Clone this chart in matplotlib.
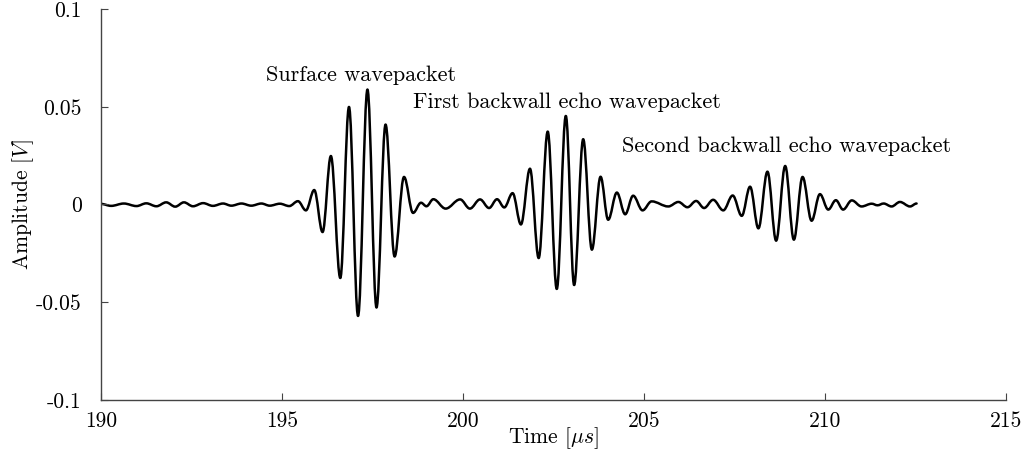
"""Ultrasonic A-scan: surface and backwall echo wavepackets."""
import matplotlib
matplotlib.use("Agg")
import matplotlib.pyplot as plt
from matplotlib.path import Path
from matplotlib.patches import PathPatch

plt.rcParams["font.family"] = "serif"
plt.rcParams["font.serif"] = ["cmr10"]
plt.rcParams["mathtext.fontset"] = "cm"
plt.rcParams["axes.unicode_minus"] = False
plt.rcParams["axes.formatter.use_mathtext"] = True

# turning points of the received signal (time in us, amplitude in V)
t_us = [
    190.00, 190.28, 190.63, 190.98, 191.25, 191.53, 191.80, 192.05, 192.29, 192.54,
    192.82, 193.09, 193.37, 193.60, 193.88, 194.15, 194.43, 194.66, 194.94, 195.20,
    195.44, 195.66, 195.89, 196.12, 196.35, 196.61, 196.85, 197.10, 197.36, 197.61,
    197.86, 198.11, 198.37, 198.62, 198.84, 198.99, 199.18, 199.52, 199.92, 200.19,
    200.47, 200.72, 200.94, 201.14, 201.37, 201.60, 201.85, 202.09, 202.34, 202.59,
    202.84, 203.07, 203.32, 203.56, 203.80, 204.01, 204.25, 204.48, 204.70, 204.96,
    205.21, 205.67, 205.95, 206.20, 206.44, 206.66, 206.91, 207.19, 207.45, 207.70,
    207.93, 208.16, 208.41, 208.65, 208.90, 209.14, 209.38, 209.63, 209.86, 210.09,
    210.30, 210.50, 210.74, 211.01, 211.29, 211.45, 211.62, 211.84, 212.07, 212.35,
    212.53,
]
amp_v = [
    0.0003, -0.0007, 0.0005, -0.0008, 0.0006, -0.0009, 0.0011, -0.0011, 0.0011, -0.0009,
    0.0007, -0.0007, 0.0005, -0.0006, 0.0005, -0.0006, 0.0005, -0.0006, 0.0004, -0.0008,
    0.0017, -0.0030, 0.0074, -0.0141, 0.0248, -0.0376, 0.0499, -0.0570, 0.0588, -0.0527,
    0.0409, -0.0266, 0.0141, -0.0043, 0.0009, -0.0009, 0.0027, -0.0021, 0.0026, -0.0021,
    0.0026, -0.0018, 0.0027, -0.0015, 0.0058, -0.0102, 0.0183, -0.0274, 0.0373, -0.0432,
    0.0453, -0.0412, 0.0334, -0.0231, 0.0142, -0.0078, 0.0061, -0.0050, 0.0045, -0.0030,
    0.0016, -0.0010, 0.0013, -0.0014, 0.0018, -0.0018, 0.0024, -0.0030, 0.0046, -0.0058,
    0.0091, -0.0122, 0.0168, -0.0185, 0.0197, -0.0180, 0.0141, -0.0083, 0.0053, -0.0026,
    0.0022, -0.0026, 0.0021, -0.0010, 0.0004, -0.0004, 0.0005, -0.0010, 0.0013, -0.0010,
    0.0005,
]

xticks = [190, 195, 200, 205, 210, 215]
yticks = [-0.1, -0.05, 0, 0.05, 0.1]
ytick_labels = ["-0.1", "-0.05", "0", "0.05", "0.1"]

labels = ["Surface wavepacket", "First backwall echo wavepacket",
          "Second backwall echo wavepacket"]
label_t = [194.56, 198.62, 204.39]
label_a = [0.0632, 0.0494, 0.0269]

fig = plt.figure(figsize=(10.32, 4.55), dpi=100)
ax = fig.add_axes([0.0979, 0.1209, 0.8769, 0.8593])

# smooth trace: cubic segments with flat tangents at each turning point
verts = [(t_us[0], amp_v[0])]
codes = [Path.MOVETO]
c = 0.364
for i in range(1, len(t_us)):
    t0, a0 = t_us[i - 1], amp_v[i - 1]
    t1, a1 = t_us[i], amp_v[i]
    dt = t1 - t0
    verts += [(t0 + c * dt, a0), (t1 - c * dt, a1), (t1, a1)]
    codes += [Path.CURVE4] * 3
ax.add_patch(PathPatch(Path(verts, codes), fill=False, edgecolor="black",
                       linewidth=1.8, capstyle="round", joinstyle="round"))

for txt, tx, ty in zip(labels, label_t, label_a):
    ax.text(tx, ty, txt, fontsize=16, ha="left", va="baseline")

ax.set_xlim(190, 215)
ax.set_ylim(-0.1, 0.1)
ax.set_xticks(xticks)
ax.set_xticklabels([str(x) for x in xticks])
ax.set_yticks(yticks)
ax.set_yticklabels(ytick_labels)
ax.tick_params(direction="in", length=5, labelsize=15.5, color="#444444")
ax.tick_params(axis="y", pad=14)
ax.tick_params(axis="x", pad=8)
for side in ["top", "right"]:
    ax.spines[side].set_visible(False)
for side in ["left", "bottom"]:
    ax.spines[side].set_color("#444444")
    ax.spines[side].set_linewidth(1.0)

ax.set_xlabel(r"Time [$\mu s$]", fontsize=15.5, labelpad=-4)
ax.set_ylabel(r"Amplitude [$V$]", fontsize=15.5, labelpad=0)

fig.savefig("out.png", dpi=100)
